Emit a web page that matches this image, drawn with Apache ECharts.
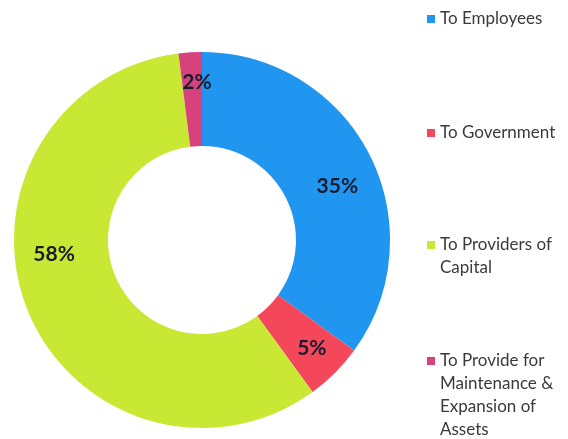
<!DOCTYPE html>
<html>
<head>
<meta charset="utf-8">
<style>
  html, body { margin: 0; padding: 0; background: #ffffff; }
  #chart { width: 568px; height: 439px; }
</style>
<script src="https://cdn.jsdelivr.net/npm/echarts@6/dist/echarts.min.js"></script>
</head>
<body>
<div id="chart"></div>
<script>
// Distribution of value added
const categories = [
  'To Employees',
  'To Government',
  'To Providers of\nCapital',
  'To Provide for\nMaintenance &\nExpansion of\nAssets'
];
const shares = [35, 5, 58, 2];
const colors = ['#2196f0', '#f4475a', '#c9e834', '#d8427c'];

// nudges for the percentage labels inside the ring
const labelNudge = [[7, 12], [8, 6], [-14, -39], [4, -14]];
// vertical position of each legend entry (first line centre)
const legendLineY = [19, 133, 245, 361];
const lineH = 23;
const iconSize = 8;

// Legend marker: a square sitting beside the first text line,
// with the marker box stretched to the height of the whole entry.
function markerPath(lines) {
  const h = lines * lineH;
  const top = lineH / 2 - iconSize / 2;
  return 'path://M0,0h0.01v0.01h-0.01z' +
    'M0,' + top + 'h' + iconSize + 'v' + iconSize + 'h-' + iconSize + 'z' +
    'M0,' + (h - 0.01) + 'h0.01v0.01h-0.01z';
}

const chart = echarts.init(document.getElementById('chart'), null, { renderer: 'canvas' });

const legends = categories.map(function (name, i) {
  const lines = name.split('\n').length;
  const multi = lines > 1;
  return {
    orient: 'vertical',
    left: 427,
    top: legendLineY[i] - lineH / 2,
    padding: 0,
    itemWidth: iconSize,
    itemHeight: multi ? lines * lineH : iconSize,
    icon: multi ? markerPath(lines) : 'rect',
    selectedMode: false,
    data: [{
      name: name,
      itemStyle: { color: colors[i] }
    }],
    textStyle: {
      fontFamily: 'Lato',
      fontSize: 17,
      color: '#3a3a3a',
      lineHeight: lineH
    }
  };
});

chart.setOption({
  backgroundColor: '#ffffff',
  animation: false,
  legend: legends,
  series: [{
    type: 'pie',
    center: [202, 240],
    radius: [94, 188],
    startAngle: 90,
    clockwise: true,
    avoidLabelOverlap: false,
    label: {
      show: true,
      position: 'inside',
      formatter: '{c}%',
      fontFamily: 'Lato',
      fontSize: 21,
      fontWeight: 'bold',
      color: '#1b1b2e'
    },
    labelLine: { show: false },
    labelLayout: function (params) {
      const d = labelNudge[params.dataIndex];
      return { dx: d[0], dy: d[1] };
    },
    itemStyle: { borderWidth: 0 },
    emphasis: { disabled: true },
    data: categories.map(function (name, i) {
      return { name: name, value: shares[i], itemStyle: { color: colors[i] } };
    })
  }]
});
</script>
</body>
</html>
